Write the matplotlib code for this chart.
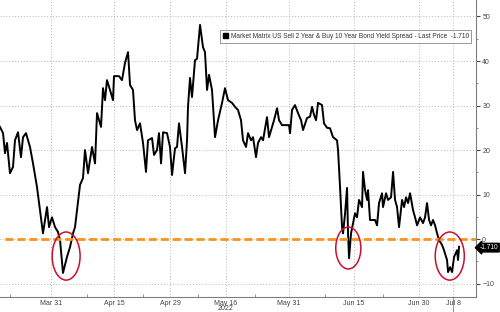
import matplotlib
matplotlib.use("Agg")
import matplotlib.pyplot as plt
from matplotlib.patches import Ellipse, Patch
from matplotlib import transforms

# x axis is in trading sessions counted from the left edge of the chart
session = [0.00, 0.53, 0.88, 1.23, 1.75, 2.28, 2.63, 3.16, 3.68, 4.04, 4.56, 5.26, 5.79, 6.49, 7.02,
           7.54, 8.25, 8.60, 9.12, 9.65, 10.18, 10.53, 11.05, 11.75, 12.28, 12.81, 13.16, 13.51, 14.04,
           14.56, 14.91, 15.44, 16.14, 16.67, 17.02, 17.72, 18.07, 18.42, 18.77, 19.30, 19.82, 20.00,
           20.88, 21.40, 21.93, 22.46, 22.81, 23.33, 23.68, 24.04, 24.56, 25.09, 25.61, 25.96, 26.67,
           27.02, 27.54, 27.89, 28.25, 28.60, 29.30, 29.82, 30.18, 30.70, 31.05, 31.40, 31.93, 32.46,
           32.81, 32.98, 33.33, 33.68, 34.21, 34.56, 35.09, 35.61, 35.96, 36.32, 36.67, 37.19, 37.72,
           38.25, 38.95, 39.47, 40.00, 40.70, 41.23, 41.75, 42.28, 42.63, 43.16, 43.51, 44.04, 44.39,
           44.91, 45.26, 45.79, 46.14, 46.84, 47.19, 47.72, 48.07, 48.60, 48.95, 49.47, 50.70, 50.88,
           51.23, 51.75, 52.28, 52.81, 53.16, 53.86, 54.39, 54.74, 55.09, 55.44, 55.79, 56.49, 56.84,
           57.37, 57.89, 58.42, 59.12, 59.30, 59.65, 60.00, 60.18, 60.53, 60.88, 61.05, 61.23, 61.58,
           61.93, 62.28, 62.63, 62.98, 63.51, 63.68, 64.04, 64.39, 64.56, 64.91, 65.79, 66.14, 66.49,
           67.02, 67.19, 67.72, 68.07, 68.60, 68.95, 69.30, 69.65, 70.00, 70.53, 70.88, 71.23, 71.58,
           71.93, 72.46, 72.81, 73.16, 73.68, 74.21, 74.56, 74.91, 75.26, 75.61, 75.96, 76.32, 76.67,
           77.02, 77.54, 77.89, 78.42, 78.60, 78.95, 79.30, 79.65, 80.18, 80.35, 80.53]
spread = [25.2, 23.8, 19.3, 21.6, 14.8, 16.2, 22.2, 24.0, 18.4, 22.9, 23.8, 20.7, 17.0, 11.7, 6.5,
          1.3, 7.2, 2.7, 4.9, 2.7, 1.6, -0.2, -7.6, -4.0, -1.8, 1.3, 2.7, 6.5, 12.2,
          13.7, 20.0, 14.8, 20.7, 17.0, 28.3, 25.2, 33.9, 31.2, 35.7, 33.5, 31.2, 36.6,
          36.6, 35.7, 39.6, 42.0, 34.6, 33.5, 26.7, 24.5, 26.0, 21.6, 15.1, 22.2, 22.7,
          18.9, 20.0, 23.8, 17.0, 24.0, 23.8, 20.7, 14.4, 20.4, 20.7, 26.0, 20.7, 14.8,
          22.2, 29.7, 36.2, 31.9, 40.2, 40.5, 48.1, 43.1, 42.0, 33.5, 36.9, 33.5, 22.9,
          26.7, 30.6, 33.9, 31.2, 30.6, 29.7, 29.0, 26.7, 22.2, 20.7, 23.8, 22.2, 22.9,
          18.4, 21.6, 22.9, 22.2, 27.4, 22.9, 25.2, 26.7, 29.4, 26.7, 25.6, 25.6, 23.8,
          29.0, 30.1, 28.3, 26.7, 24.5, 27.2, 27.5, 29.7, 27.9, 26.7, 30.6, 30.1, 26.0,
          25.0, 24.9, 22.9, 22.2, 20.0, 11.7, 2.7, 1.3, 5.8, 11.5, 1.3, -4.3, 1.3,
          3.6, 5.8, 4.9, 8.8, 7.2, 15.1, 11.0, 8.8, 11.0, 4.3, 4.3, 3.1, 8.1,
          10.3, 7.2, 10.3, 8.8, 9.4, 15.1, 8.8, 7.2, 2.7, 8.8, 7.2, 9.4, 8.1,
          10.3, 6.5, 4.9, 3.1, 4.9, 3.6, 4.9, 8.1, 4.3, 3.1, 4.3, 3.1, 1.3,
          -0.2, -1.3, -2.5, -4.7, -7.4, -6.3, -7.4, -4.0, -2.5, -4.7, -1.71]

tick_pos = [8.95, 20.0, 29.82, 39.65, 50.70, 62.11, 73.51, 79.47]
tick_labels = ["Mar 31", "Apr 15", "Apr 29", "May 16", "May 31", "Jun 15", "Jun 30", "Jul 8"]
minor_pos = [1.75, 15.26, 25.09, 34.74, 44.74, 57.02, 67.19]
last_price = -1.710
series_name = "Market Matrix US Sell 2 Year & Buy 10 Year Bond Yield Spread - Last Price"

# red circles: (center session, center value, width sessions, height value)
circles = [(11.6, -3.8, 4.9, 10.8), (61.1, -2.0, 4.4, 9.4), (78.9, -3.8, 5.1, 10.8)]

plt.rcParams['font.family'] = ['Liberation Sans', 'DejaVu Sans']
fig = plt.figure(figsize=(5, 3.12), dpi=100)
ax = fig.add_axes([0.0, 0.048, 0.952, 0.952])

ax.plot(session, spread, color="black", lw=1.4, zorder=3)
ax.axhline(0, xmin=0.01, color="#f7941d", lw=2.0, dashes=(2.9, 1.4), zorder=4)

for cx, cy, w, h in circles:
    ax.add_patch(Ellipse((cx, cy), w, h, fill=False, ec="#c8102e", lw=1.1, zorder=5))

ax.set_xlim(0, 83.5)
ax.set_ylim(-13.0, 53.7)

ax.set_xticks(tick_pos)
ax.set_xticklabels(tick_labels)
ax.set_xticks(minor_pos, minor=True)
ax.set_yticks(range(-10, 51, 10))
ax.set_yticks(range(-5, 51, 10), minor=True)
ax.yaxis.tick_right()

ax.grid(True, which="major", color="#b5b5b5", ls=(0, (1, 2)), lw=0.7)
for s in ["top", "left"]:
    ax.spines[s].set_visible(False)
for s in ["right", "bottom"]:
    ax.spines[s].set_color("#7f7f7f")
    ax.spines[s].set_linewidth(0.8)

ax.tick_params(axis="x", which="major", length=0, labelsize=5, colors="#444444", pad=2)
ax.tick_params(axis="x", which="minor", length=2, color="#7f7f7f", direction="in")
ax.tick_params(axis="y", which="major", length=3, labelsize=5, colors="#444444", pad=1.5)
ax.tick_params(axis="y", which="minor", length=1.5, color="#7f7f7f")

ax.text(tick_pos[3], -0.040, "2022", transform=transforms.blended_transform_factory(ax.transData, ax.transAxes),
        ha="center", va="center", fontsize=5, color="#444444")
ax.plot([tick_pos[-1], tick_pos[-1]], [0, -0.06], transform=transforms.blended_transform_factory(ax.transData, ax.transAxes),
        color="#7f7f7f", lw=0.6, clip_on=False)

tr = transforms.blended_transform_factory(ax.transAxes, ax.transData)
ax.text(1.008, last_price - 0.2, "%.3f" % last_price, transform=tr, ha="left", va="center", fontsize=4.8,
        color="white", bbox=dict(boxstyle="larrow,pad=0.12", fc="black", ec="black"))

handle = Patch(facecolor="black", edgecolor="black")
leg = ax.legend([handle], [series_name + "  %.3f" % last_price], loc="upper right",
                bbox_to_anchor=(0.997, 0.909), fontsize=4.7, frameon=True, fancybox=False,
                handlelength=0.8, handleheight=0.8, handletextpad=0.4, borderpad=0.4)
leg.get_frame().set_edgecolor("#7f7f7f")
leg.get_frame().set_linewidth(0.7)
for t in leg.get_texts():
    t.set_color("#333333")

fig.savefig("out.png", dpi=100)
